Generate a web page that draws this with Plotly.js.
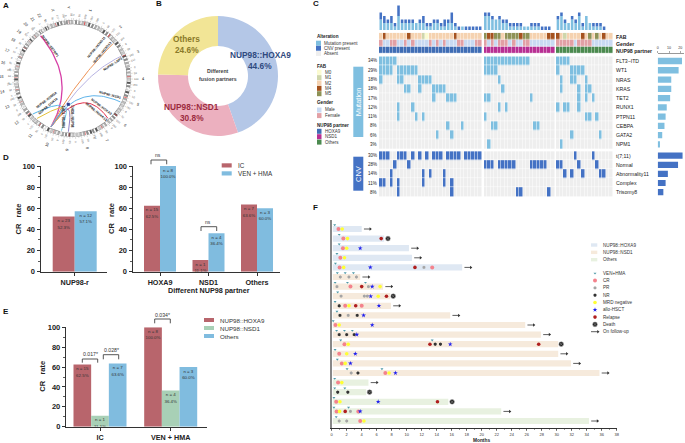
<!DOCTYPE html>
<html><head><meta charset="utf-8">
<script src="https://cdn.plot.ly/plotly-3.0.1.min.js"></script>
<style>html,body{margin:0;padding:0;background:#fff}#c{width:685px;height:443px}</style>
</head><body><div id="c"></div>
<script>
// ---------- DATA ----------
// A: circos
const chrNames=['1','2','3','4','5','6','7','8','9','10','11','12','13','14','15','16','17','18','19','20','21','22','X','Y'];
const chrLen=[249,243,198,191,181,171,159,146,141,135,135,133,115,107,102,90,81,78,59,63,48,51,155,59];
const chordLabels=['NUP98::SETBP1','NUP98::HOXD11','NUP98::HOXD13','NUP98::LNP1','NUP98::NSD1','NUP98::HOXA9','NUP98::HOXA13','NUP98::KDM5A','NUP98::DDX10','NUP98::TOP1','CHD8::NUP98'];
const chordEndDeg=[323.2,49.3,65.4,116.1,138.4,228.2,221.6,192,184.4];
const chordCtrlX=[0.09,-0.01,0.2,0.08,0.2,0.14,0.17,0.05,0.05];
const chordCtrlY=[0.02,0.12,-0.09,0.06,0.09,0.24,0.27,0.18,0.18];
const chordColors=['#d63ea6','#ee9255','#b8b4e3','#5fb4ea','#e2304b','#55b7e8','#e3c23c','#6fcbe0','#8d7fc9'];
const nup98Deg=203.9;
// B: donut
const pieLabels=['NUP98::HOXA9','NUP98::NSD1','Others'];
const pieValues=[44.6,30.8,24.6];
const pieColors=['#b4c7e7','#ecb0bf','#f2e596'];
// C: oncoplot
const mutGenes=['FLT3−ITD','WT1','NRAS','KRAS','TET2','RUNX1','PTPN11','CEBPA','GATA2','NPM1'];
const mutPct=['34%','29%','18%','18%','17%','12%','11%','8%','6%','3%'];
const mutCount=[21.5,18.5,12,12,11,8,7,6,4,2];
const cnvNames=['t(7;11)','Normal','Abnormality11','Complex','Trisomy8'];
const cnvPct=['30%','28%','14%','11%','8%'];
const cnvCount=[22,18,9,7,5];
const FLT3=[[0,1,2,3,4],[0,1,2,3,4,5,6,7,8,9,10,11,12],[0,1,2,3]];
const WT1=[[0,1,2,3,5,6,7,8,9,10],[0,1,2,3],[0,4,5,6,7]];
const NRAS=[[0,5,6,11,12,13,14],[4],[1,4,5,8]];
const KRAS=[[7,8,11,15,16,17,18],[5],[1,6,8,9]];
const TET2=[[15,19,20,21],[0,1,13],[6,8,10]];
const RUNX1=[[5,9],[4,6],[0,2,3,6]];
const PTPN11=[[5,10,12],[0],[8,9,11]];
const CEBPA=[[19,23],[2,3,14,15],[]];
const GATA2=[[16,20],[],[4,12]];
const NPM1=[[],[1],[1]];
const T711=[[0,1,2,5,6,7,9,11,13,15,16,17,19,20,21,22,24,25,26,27,28],[],[5,10]];
const NORMAL=[[4,8],[0,1,2,4,5,6,7,8,13,14,15,16,17],[0,1,6,11]];
const ABN11=[[3,12,14,18],[],[2,4,7,12,13]];
const COMPLEX=[[0,1,3,5,12,18,20],[],[]];
const TRI8=[[5,20],[9,10,18],[]];
const fabCodes=['24222222422210222222242222222','54455255554552222244','4212222425252422'];
const genderCodes=['10011001010000101010001100011','10101110100110000000','1111101111000000'];
const groupSizes=[29,20,16];
const barTickVals=[0,10,20];
// D
const dLeftIC=[52.3], dLeftVEN=[57.1];
const dLeftN=['n = 23','n = 12'], dLeftPct=['52.3%','57.1%'];
const dCats=['HOXA9','NSD1','Others'];
const dIC=[62.5,11.1,63.6], dVEN=[100,36.4,60.0];
const dICn=['n = 15','n = 1','n = 7'], dVENn=['n = 8','n = 4','n = 3'];
// E
const eCats=['IC','VEN + HMA'];
const eHOXA9=[62.5,100], eNSD1=[11.1,36.4], eOthers=[63.6,60.0];
const eHOXA9n=['n = 15','n = 8'], eNSD1n=['n = 1','n = 4'], eOthersN=['n = 7','n = 3'];
// F: swimmer
const durations=[4,7,10.3,10.7,17.4,3.8,6.85,7.8,7.9,15.8,25.8,27.9,30.2,30.2,31.9,35.7,4.9,4.6,15.55,22.6,34.3];
const rowsHOXA9=[0,1,2,3,4], rowsNSD1=[5,6,7,8,9,10,11,12,13,14,15], rowsOthers=[16,17,18,19,20];
const followUpRows=[0,2,3,4,5,6,8,9,10,11,13,14,15,16,19,20];
const evVEN=[[0,.4],[1,1],[2,1],[3,.7],[4,.5],[5,.75],[5,1.8],[5,2.9],[6,.45],[6,2.1],[6,4.5],[7,.8],[8,.45],[9,.7],[10,.2],[11,.65],[11,1.7],[11,2.75],[12,1.2],[12,13.4],[13,.45],[14,.75],[15,2.05],[15,6.7],[16,.4],[17,.4],[17,1.75],[18,.3],[19,.3],[19,2.25],[20,.6]];
const evCR=[[0,.9],[1,1.55],[2,1.5],[3,1.15],[4,1.05],[4,13.4],[6,2.5],[8,1.8],[8,4],[10,.5],[12,1.7],[13,1],[14,1.35],[15,7.15],[16,.85],[18,.6],[19,.65],[19,3.55],[20,3.8]];
const evPR=[[4,12.3],[5,1.15],[5,2.3],[5,3.3],[6,.7],[6,4.9],[7,1.25],[7,4.35],[7,4.75],[9,2.2],[15,2.6],[19,2.5],[20,1],[20,2]];
const evNR=[[8,1],[9,1.1],[9,3.4],[11,1],[11,2],[11,3],[12,13.8],[12,14.5],[15,3.5],[17,.8],[17,2.15]];
const evMRD=[[0,1.4],[1,2.1],[2,2],[3,1.7],[4,1.6],[6,6.45],[7,6.2],[8,2.3],[10,1],[12,2.2],[13,2],[14,1.8],[15,7.65],[16,1.35],[18,1.1],[19,1.05],[20,4.3]];
const evAllo=[[2,3.8],[4,5.15],[6,5.4],[7,5.2],[8,6.3],[9,4.25],[10,5.4],[11,3.35],[12,15.8],[13,3.15],[14,2.5],[15,8.5],[18,6.2],[19,3.8]];
const evRelapse=[[1,6.6],[4,11.1],[6,4],[7,7.3],[8,3.2],[12,13.1],[12,27.6],[18,14.1],[19,1.8]];
const evDeath=[[1,7.5],[7,8.2],[12,30.6],[17,5.05],[18,16.05]];

// ---------- HELPERS ----------
const W=685,H=443,FONT='"Liberation Sans",Arial,sans-serif';
const C={red:'#b8656c',blue:'#80bcdf',green:'#a8d0b6',mut:'#7fbfe0',cnv:'#4472c4',grey:'#eeeeee',ink:'#222',
 fab:{0:'#fbfbd0',1:'#cfd6ab',2:'#f5d2b0',4:'#a5521e',5:'#8e9256'},male:'#c9daf2',female:'#e2a0a5',
 hoxa9:'#3f6db5',nsd1:'#b82f93',others:'#4b8a4f',
 bandA:'#dfe8f3',bandB:'#f6eadc',bandC:'#e8f1e0',
 evVEN:'#4f9aa8',evCR:'#f4828c',evPR:'#a5a5a5',evNR:'#333333',evMRD:'#ffff33',evAllo:'#2222ee',evRel:'#b01f1f',evDeath:'#222222'};
const layout={width:W,height:H,margin:{l:0,r:0,t:0,b:0},paper_bgcolor:'#fff',plot_bgcolor:'rgba(0,0,0,0)',showlegend:false,hovermode:false,font:{family:FONT,color:C.ink},annotations:[],shapes:[]};
const data=[];
let axN=1;
function axes(x0,x1,y0,y1,xo,yo){
 const n=axN++,s=n===1?'':String(n);
 layout['xaxis'+s]=Object.assign({domain:[x0/W,x1/W],anchor:'y'+s,visible:false,fixedrange:true,showgrid:false,zeroline:false},xo);
 layout['yaxis'+s]=Object.assign({domain:[1-y1/H,1-y0/H],anchor:'x'+s,visible:false,fixedrange:true,showgrid:false,zeroline:false},yo);
 return {xaxis:'x'+s,yaxis:'y'+s};
}
function T(text,x,y,o){o=o||{};
 layout.annotations.push({text:o.bold?'<b>'+text+'</b>':text,x:x/W,y:1-y/H,xref:'paper',yref:'paper',showarrow:false,xanchor:o.anchor||'left',yanchor:'middle',textangle:o.angle||0,borderpad:0,
  font:{family:FONT,size:o.size||5,color:o.color||C.ink}});
}
function R(x0,y0,x1,y1,color){layout.shapes.push({type:'rect',xref:'paper',yref:'paper',x0:x0/W,x1:x1/W,y0:1-y0/H,y1:1-y1/H,fillcolor:color,line:{width:0},layer:'above'});}
function bracket(x0,x1,yTop,yBot){
 layout.shapes.push({type:'path',xref:'paper',yref:'paper',path:`M ${x0/W} ${1-yBot/H} L ${x0/W} ${1-yTop/H} L ${x1/W} ${1-yTop/H} L ${x1/W} ${1-yBot/H}`,line:{color:'#444',width:.9},layer:'above'});
}
const ticks100=(o)=>Object.assign({visible:true,range:[0,o.top||100],showline:true,linecolor:'#333',linewidth:1.2,ticks:'outside',ticklen:3,tickwidth:1,tickcolor:'#333',tickvals:[0,20,40,60,80,100],
 tickfont:{family:FONT,size:7.5,weight:'bold',color:'#222'},minor:{tickvals:[10,30,50,70,90],ticks:'outside',ticklen:1.8,tickwidth:.8,tickcolor:'#333'}},{});
const catAxis=(range,vals,text,size)=>({visible:true,range:range,showline:true,linecolor:'#333',linewidth:1.2,ticks:'outside',ticklen:3,tickwidth:1,tickcolor:'#333',tickvals:vals,ticktext:text,tickfont:{family:FONT,size:size,weight:'bold',color:'#222'}});
function groupedBars(ax,cats,series,w,pxPerVal){
 const n=series.length;
 series.forEach((s,j)=>{
  const off=-n*w/2+j*w;
  data.push(Object.assign({type:'bar',x:cats,y:s.values,width:w,offset:off,marker:{color:s.color,line:{width:0}},hoverinfo:'skip'},ax));
  const xs=cats.map(c=>c+off+w/2);
  data.push(Object.assign({type:'scatter',mode:'text',x:xs,y:s.values.map(v=>v-4.6/pxPerVal),text:s.ns,textfont:{family:FONT,size:4.4,color:'#333'},hoverinfo:'skip'},ax));
  data.push(Object.assign({type:'scatter',mode:'text',x:xs,y:s.values.map(v=>v-11/pxPerVal),text:s.values.map(v=>v.toFixed(1)+'%'),textfont:{family:FONT,size:4.4,color:'#333'},hoverinfo:'skip'},ax));
 });
}

// ---------- PANEL LETTERS ----------
[['A',1.5,5],['B',155,4],['C',312,4],['D',1.5,157.5],['E',1.5,311],['F',312,207.5]].forEach(l=>T(l[0],l[1],l[2],{bold:true,size:8,color:'#111'}));

// ---------- A: CIRCOS ----------
(function(){
 const cx=72.5,cy=78.5,U=55;
 const ax=axes(0,145,6,151,{range:[-72.5/U,72.5/U]},{range:[-72.5/U,72.5/U]});
 const pol=(deg,r)=>[r*Math.sin(deg*Math.PI/180),r*Math.cos(deg*Math.PI/180)];
 const gap=.8,scale=(360-chrLen.length*gap)/chrLen.reduce((a,b)=>a+b,0);
 const shades=['#ffffff','#cccccc','#f0f0f0','#8c8c8c','#e6e6e6','#bbbbbb','#ffffff','#555555','#dddddd','#aaaaaa'];
 const bySh={};let st=1;
 const arc=(a,b,r)=>{const xs=[],ys=[];const n=Math.max(2,Math.ceil((b-a)/1.5)+1);for(let i=0;i<n;i++){const p=pol(a+(b-a)*i/(n-1),r);xs.push(p[0]);ys.push(p[1]);}return [xs,ys];};
 const tickX=[],tickY=[];
 const outlineX=[],outlineY=[];
 chrLen.forEach((len,i)=>{
  const span=len*scale;
  const a0=arc(st,st+span,1.025);outlineX.push(...a0[0],null);outlineY.push(...a0[1],null);
  const nb=Math.max(5,Math.round(len/16));
  for(let b=0;b<nb;b++){
   const col=shades[(b*3+i)%shades.length];
   const a=arc(st+span*b/nb,st+span*(b+1)/nb,1.025);
   (bySh[col]=bySh[col]||{x:[],y:[]});bySh[col].x.push(...a[0],null);bySh[col].y.push(...a[1],null);
  }
  const ca=arc(st+span*.4,st+span*.43,1.025);
  (bySh['#e33f3f']=bySh['#e33f3f']||{x:[],y:[]});bySh['#e33f3f'].x.push(...ca[0],null);bySh['#e33f3f'].y.push(...ca[1],null);
  for(let m=0;m<=len;m+=25){
   const d=st+m*scale,p1=pol(d,1.065),p2=pol(d,m%50===0?1.1:1.085);
   tickX.push(p1[0],p2[0],null);tickY.push(p1[1],p2[1],null);
   if(m%50===0){
    const p=pol(d,1.155),lx=cx+U*p[0],ly=cy-U*p[1],right=d<180;
    T(String(m),lx,ly,{size:2.6,anchor:'center',angle:right?d-90:d+90,color:'#555'});
   }
  }
  const mid=st+span/2,pn=pol(mid,1.29);
  T(chrNames[i],cx+U*pn[0],cy-U*pn[1],{size:4,anchor:'center',angle:mid<180?mid-90:mid+90,color:'#222'});
  st+=span+gap;
 });
 data.push(Object.assign({type:'scatter',mode:'lines',x:outlineX,y:outlineY,line:{color:'#8a8a8a',width:4.2},hoverinfo:'skip'},ax));
 Object.keys(bySh).forEach(c=>data.push(Object.assign({type:'scatter',mode:'lines',x:bySh[c].x,y:bySh[c].y,line:{color:c,width:3.4},hoverinfo:'skip',connectgaps:false},ax)));
 data.push(Object.assign({type:'scatter',mode:'lines',x:tickX,y:tickY,line:{color:'#888',width:.3},hoverinfo:'skip'},ax));
 const p0=pol(nup98Deg,.96);
 chordEndDeg.forEach((deg,i)=>{
  const p1=pol(deg,.97),c=[chordCtrlX[i],-chordCtrlY[i]],xs=[],ys=[];
  for(let t=0;t<=1.0001;t+=.025){const u=1-t;xs.push(u*u*p0[0]+2*u*t*c[0]+t*t*p1[0]);ys.push(u*u*p0[1]+2*u*t*c[1]+t*t*p1[1]);}
  data.push(Object.assign({type:'scatter',mode:'lines',x:xs,y:ys,line:{color:chordColors[i],width:i===0?1.3:1,shape:'linear'},hoverinfo:'skip'},ax));
 });
 data.push(Object.assign({type:'scatter',mode:'markers',x:[-.076],y:[-.47],marker:{symbol:'square',size:3,color:'#2f3f8f'},hoverinfo:'skip'},ax));
 const L=[[0,50,46,53],[1,96.7,47,-50],[2,102,53,-50],[3,113.3,64,-33],[4,110,95,15],[5,101.7,106.7,37],[6,96.7,111.7,40],[7,46.7,100,-37],[8,48.3,106,-40],[9,64,116.7,-90],[10,72.7,116.7,90]];
 L.forEach(l=>T(chordLabels[l[0]],l[1],l[2],{size:3.4,bold:true,anchor:'center',angle:l[3],color:'#222'}));
})();

// ---------- B: DONUT ----------
data.push({type:'pie',labels:pieLabels,values:pieValues,hole:.5,sort:false,direction:'clockwise',rotation:0,textinfo:'none',hoverinfo:'skip',marker:{colors:pieColors,line:{width:0}},domain:{x:[158/W,278/W],y:[1-136/H,1-16/H]}});
T('Different',218,71,{size:5.2,anchor:'center',color:'#444',bold:true});
T('fusion partners',218,79,{size:5.2,anchor:'center',color:'#444',bold:true});
T(pieLabels[0],260,55,{size:8.3,bold:true,anchor:'center',color:'#2f4a80'});
T(pieValues[0]+'%',260,65.5,{size:8.3,bold:true,anchor:'center',color:'#2f4a80'});
T(pieLabels[1],191.5,107,{size:8.3,bold:true,anchor:'center',color:'#9c2b3e'});
T(pieValues[1]+'%',191.5,118,{size:8.3,bold:true,anchor:'center',color:'#9c2b3e'});
T(pieLabels[2],187,39,{size:8.3,bold:true,anchor:'center',color:'#8a7a2a'});
T(pieValues[2]+'%',187,49.5,{size:8.3,bold:true,anchor:'center',color:'#8a7a2a'});

// ---------- C: ONCOPLOT ----------
(function(){
 const cw=3.55,gapW=.45,x0=379;
 const edges=[0],colX=[];let e=0;
 groupSizes.forEach((g,gi)=>{
  for(let i=0;i<g;i++){colX.push(e+.5);e+=1;edges.push(e);}
  if(gi<groupSizes.length-1){e+=gapW;edges.push(e);}
 });
 const xr=[0,e],x1=x0+e*cw;
 const toRow=(lists,zero,one)=>{const out=[];lists.forEach((l,gi)=>{for(let i=0;i<groupSizes[gi];i++)out.push(l.includes(i)?one:zero);if(gi<2)out.push(null);});return out;};
 const hm=(z,ax,cs,zmax,gap)=>data.push(Object.assign({type:'heatmap',x:edges,z:z,zmin:0,zmax:zmax,colorscale:cs,showscale:false,xgap:gap,ygap:gap,hoverinfo:'skip'},ax));
 const two=c=>[[0,C.grey],[.5,C.grey],[.5,c],[1,c]];
 const mutLists=[FLT3,WT1,NRAS,KRAS,TET2,RUNX1,PTPN11,CEBPA,GATA2,NPM1];
 const cnvLists=[T711,NORMAL,ABN11,COMPLEX,TRI8];
 const mY0=61,mStep=9.27,cY0=155.7,cStep=9.1;
 const axM=axes(x0,x1,mY0-mStep/2,mY0+9.5*mStep,{range:xr},{range:[9.5,-.5]});
 hm(mutLists.map(l=>toRow(l,0,1)),axM,two(C.mut),1,.5);
 const axC=axes(x0,x1,cY0-cStep/2,cY0+4.5*cStep,{range:xr},{range:[4.5,-.5]});
 hm(cnvLists.map(l=>toRow(l,0,1)),axC,two(C.cnv),1,.5);
 const pal=[C.fab[0],C.fab[1],C.fab[2],C.fab[4],C.fab[5],C.male,C.female,C.hoxa9,C.nsd1,C.others];
 const cs=[];pal.forEach((c,i)=>{cs.push([i/pal.length,c]);cs.push([(i+1)/pal.length,c]);});
 const fabIdx={0:0,1:1,2:2,4:3,5:4};
 const strip=fn=>{const o=[];groupSizes.forEach((g,gi)=>{for(let i=0;i<g;i++)o.push(fn(gi,i));if(gi<2)o.push(null);});return o;};
 const zS=[strip((g,i)=>fabIdx[fabCodes[g][i]]+.5),strip((g,i)=>(genderCodes[g][i]==='1'?6:5)+.5),strip((g,i)=>7+g+.5)];
 const axS=axes(x0,x1,32.7,53.3,{range:xr},{range:[2.5,-.5]});
 data.push(Object.assign({type:'heatmap',x:edges,z:zS,zmin:0,zmax:pal.length,colorscale:cs,showscale:false,xgap:.4,ygap:.5,hoverinfo:'skip'},axS));
 const mutTot=colX.map(()=>0),cnvTot=colX.map(()=>0);
 let idx=0;
 groupSizes.forEach((g,gi)=>{for(let i=0;i<g;i++){
   mutLists.forEach(l=>{if(l[gi].includes(i))mutTot[idx]++;});
   cnvLists.forEach(l=>{if(l[gi].includes(i))cnvTot[idx]++;});idx++;}});
 const axT=axes(x0,x1,5,30,{range:xr},{range:[0,25/3.5]});
 data.push(Object.assign({type:'bar',x:colX,y:mutTot,width:.72,marker:{color:C.mut,line:{width:0}},offset:-.36,hoverinfo:'skip'},axT));
 data.push(Object.assign({type:'bar',x:colX,y:cnvTot,base:mutTot,width:.72,marker:{color:C.cnv,line:{width:0}},offset:-.36,hoverinfo:'skip'},axT));
 axes(x0-1,x1,5,30,{range:[0,1]},{visible:true,range:[0,25/3.5],tickvals:[0,2,4,6],ticks:'outside',ticklen:1.5,tickwidth:.5,tickcolor:'#666',showline:true,linewidth:.6,linecolor:'#666',tickfont:{family:FONT,size:3.6,color:'#333'}});
 const bx0=657.7,bx1=683.5,kx=1.13;
 const axR=axes(bx0,bx1,53.3,mY0+9.5*mStep,{visible:true,side:'top',range:[0,(bx1-bx0)/kx],tickvals:barTickVals,ticks:'outside',ticklen:1.8,tickwidth:.5,tickcolor:'#555',showline:true,linewidth:.6,linecolor:'#555',tickfont:{family:FONT,size:3.6,color:'#333'}},{range:[9.5,(53.3-mY0)/mStep]});
 data.push(Object.assign({type:'bar',orientation:'h',y:mutGenes.map((_,i)=>i),x:mutCount,width:.68,offset:-.34,marker:{color:C.mut,line:{width:0}},hoverinfo:'skip'},axR));
 const axR2=axes(bx0,bx1,cY0-cStep/2,cY0+4.5*cStep,{range:[0,(bx1-bx0)/kx]},{range:[4.5,-.5]});
 data.push(Object.assign({type:'bar',orientation:'h',y:cnvNames.map((_,i)=>i),x:cnvCount,width:.68,offset:-.34,marker:{color:C.cnv,line:{width:0}},hoverinfo:'skip'},axR2));
 mutGenes.forEach((g,i)=>{T(g,x1+2,mY0+i*mStep,{size:5.2});T(mutPct[i],377.7,mY0+i*mStep,{size:4.5,anchor:'right'});});
 cnvNames.forEach((g,i)=>{T(g,x1+2,cY0+i*cStep,{size:5.2});T(cnvPct[i],377.7,cY0+i*cStep,{size:4.5,anchor:'right'});});
 ['FAB','Gender','NUP98 partner'].forEach((t,i)=>T(t,x1+2,36.6+i*7.1,{size:5.2,bold:true}));
 R(353.3,66.7,363.3,137,C.mut);R(353.3,156.7,363.3,190.7,C.cnv);
 T('Mutation',358.3,102,{size:7.5,anchor:'center',angle:-90,color:'#fff'});
 T('CNV',358.3,173.7,{size:7.5,anchor:'center',angle:-90,color:'#fff'});
 const hdr=(t,y)=>T(t,316,y,{size:4.6,bold:true});
 const key=(t,y,c,kx0,kx1,tx)=>{R(kx0,y-2.5,kx1,y+2.5,c);T(t,tx,y,{size:4.5,color:'#333'});};
 hdr('Alteration',36.7);
 [['Mutation present',C.mut],['CNV present',C.cnv],['Absent',C.grey]].forEach((k,i)=>key(k[0],43.2+i*5.1,k[1],316,321,323));
 hdr('FAB',66.7);
 [['M0',C.fab[0]],['M1',C.fab[1]],['M2',C.fab[2]],['M4',C.fab[4]],['M5',C.fab[5]]].forEach((k,i)=>key(k[0],72.3+i*5.35,k[1],317,321.5,323.5));
 hdr('Gender',103);
 [['Male',C.male],['Female',C.female]].forEach((k,i)=>key(k[0],110+i*5.6,k[1],317,321.5,323.5));
 hdr('NUP98 partner',125);
 [['HOXA9',C.hoxa9],['NSD1',C.nsd1],['Others',C.others]].forEach((k,i)=>key(k[0],131.3+i*5.4,k[1],317,321.5,323.5));
})();

// ---------- D ----------
(function(){
 const pv=105.7/100;
 const a1=axes(40.7,107,166,271.7,catAxis([-34/66,32.3/66],[0],['NUP98-r'],7.2),ticks100({}));
 groupedBars(a1,[0],[{values:dLeftIC,ns:[dLeftN[0]],color:C.red},{values:dLeftVEN,ns:[dLeftN[1]],color:C.blue}],1/3,pv);
 const a2=axes(132.7,280,166,271.7,catAxis([(132.7-160)/48.5,2+(280-257)/48.5],[0,1,2],dCats,7.2),ticks100({}));
 groupedBars(a2,[0,1,2],[{values:dIC,ns:dICn,color:C.red},{values:dVEN,ns:dVENn,color:C.blue}],.33,pv);
 T('CR&nbsp;&nbsp;&nbsp;rate',17.5,219,{size:7.5,bold:true,anchor:'center',angle:-90});
 T('CR&nbsp;&nbsp;&nbsp;rate',111,219,{size:7.5,bold:true,anchor:'center',angle:-90});
 T('Different NUP98 partner',209,290,{size:7.2,bold:true,anchor:'center'});
 bracket(151,166.7,160,164.3);T('ns',157.7,155,{size:5,anchor:'center',color:'#333'});
 bracket(201,216.7,226.7,231);T('ns',208,221.7,{size:5,anchor:'center',color:'#333'});
 R(221.7,163.3,231.7,167.5,C.red);T('IC',237.3,165.3,{size:6.3,color:'#333'});
 R(221.7,171.3,231.7,175.5,C.blue);T('VEN + HMA',237.3,173.5,{size:6.3,color:'#333'});
})();

// ---------- E ----------
(function(){
 const pv=99.4/100;
 const a=axes(66,206.7,327.3,426.7,catAxis([-34/70.7,1+(206.7-170.7)/70.7],[0,1],eCats,7.2),ticks100({}));
 groupedBars(a,[0,1],[{values:eHOXA9,ns:eHOXA9n,color:C.red},{values:eNSD1,ns:eNSD1n,color:C.green},{values:eOthers,ns:eOthersN,color:C.blue}],.25,pv);
 T('CR&nbsp;&nbsp;&nbsp;rate',41.7,376,{size:7.5,bold:true,anchor:'center',angle:-90});
 bracket(82.3,97.7,359,362.7);T('0.017*',90,354,{size:5.2,anchor:'center',color:'#333'});
 bracket(103.3,118.7,354.7,359.3);T('0.028*',111,350,{size:5.2,anchor:'center',color:'#333'});
 bracket(154.7,170.3,319,323.3);T('0.034*',162.7,314.7,{size:5.2,anchor:'center',color:'#333'});
 [['NUP98::HOXA9',C.red],['NUP98::NSD1',C.green],['Others',C.blue]].forEach((k,i)=>{R(204,318+i*8,214,322+i*8,k[1]);T(k[0],219,320+i*8,{size:6.2,color:'#333'});});
})();

// ---------- F ----------
(function(){
 const y0=229,step=9.6,base=.15;
 const a=axes(331.7,616.7,220,427.7,
  {visible:true,range:[0,38],tickvals:[0,2,4,6,8,10,12,14,16,18,20,22,24,26,28,30,32,34,36,38],ticks:'outside',ticklen:2,tickwidth:.6,tickcolor:'#333',showline:true,linecolor:'#333',linewidth:1,tickfont:{family:FONT,size:4,color:'#333'},minor:{dtick:1,ticks:'outside',ticklen:1.2,tickwidth:.5,tickcolor:'#333'}},
  {visible:true,range:[(427.7-y0)/step,(220-y0)/step],showline:true,linecolor:'#888',linewidth:2,ticks:'',showticklabels:false});
 [[rowsHOXA9,C.bandA],[rowsNSD1,C.bandB],[rowsOthers,C.bandC]].forEach(g=>{
  data.push(Object.assign({type:'bar',orientation:'h',y:g[0],x:g[0].map(r=>durations[r]-base),base:base,width:.65,offset:-.325,marker:{color:g[1],line:{width:0}},hoverinfo:'skip'},a));
 });
 const ax=[],ay=[],hx=[],hy=[];
 followUpRows.forEach(r=>{const e=durations[r];ax.push(e+.3,e+1.15,null);ay.push(r,r,null);hx.push(e+1.15);hy.push(r);});
 data.push(Object.assign({type:'scatter',mode:'lines',x:ax,y:ay,line:{color:'#333',width:.8},hoverinfo:'skip'},a));
 data.push(Object.assign({type:'scatter',mode:'markers',x:hx,y:hy,marker:{symbol:'triangle-right',size:3,color:'#333'},hoverinfo:'skip'},a));
 const ev=(list,m,dy)=>data.push(Object.assign({type:'scatter',mode:'markers',x:list.map(p=>p[1]),y:list.map(p=>p[0]+(dy||0)),marker:m,hoverinfo:'skip'},a));
 const M={ven:{symbol:'triangle-down',size:2.6,color:C.evVEN},cr:{symbol:'circle',size:4,color:C.evCR},pr:{symbol:'hexagon',size:3.3,color:C.evPR},nr:{symbol:'hexagon',size:3.4,color:C.evNR},mrd:{symbol:'circle',size:3.6,color:C.evMRD},allo:{symbol:'star',size:3.6,color:C.evAllo},rel:{symbol:'circle',size:3.6,color:C.evRel},dea:{symbol:'circle-x',size:4.8,color:C.evDeath,line:{color:'#999',width:.5}}};
 ev(evCR,M.cr);ev(evMRD,M.mrd);ev(evPR,M.pr);ev(evNR,M.nr);ev(evRelapse,M.rel);ev(evAllo,M.allo);ev(evDeath,M.dea);ev(evVEN,M.ven,-.42);
 T('Months',481,440,{size:4.8,bold:true,anchor:'center'});
 [['NUP98::HOXA9',C.bandA],['NUP98::NSD1',C.bandB],['Others',C.bandC]].forEach((k,i)=>{R(591,245-1.7+i*7.35,597.3,245+1.7+i*7.35,k[1]);T(k[0],601.7,245+i*7.35,{size:4.6,color:'#333'});});
 const pg=axes(0,W,0,H,{range:[0,W]},{range:[H,0]});
 const keyX=595;
 [['VEN+HMA',M.ven],['CR',M.cr],['PR',M.pr],['NR',M.nr],['MRD negative',M.mrd],['allo-HSCT',M.allo],['Relapse',M.rel],['Death',M.dea]].forEach((k,i)=>{
  const y=273.3+i*7.3;
  data.push(Object.assign({type:'scatter',mode:'markers',x:[keyX],y:[y],marker:k[1],hoverinfo:'skip'},pg));
  T(k[0],601.7,y,{size:4.6,color:'#333'});
 });
 const yf=331.7;
 data.push(Object.assign({type:'scatter',mode:'lines',x:[591,598],y:[yf,yf],line:{color:'#333',width:.8},hoverinfo:'skip'},pg));
 data.push(Object.assign({type:'scatter',mode:'markers',x:[598],y:[yf],marker:{symbol:'triangle-right',size:3,color:'#333'},hoverinfo:'skip'},pg));
 T('On follow-up',601.7,yf,{size:4.6,color:'#333'});
})();

Plotly.newPlot('c',data,layout,{staticPlot:true,displayModeBar:false});
</script></body></html>
